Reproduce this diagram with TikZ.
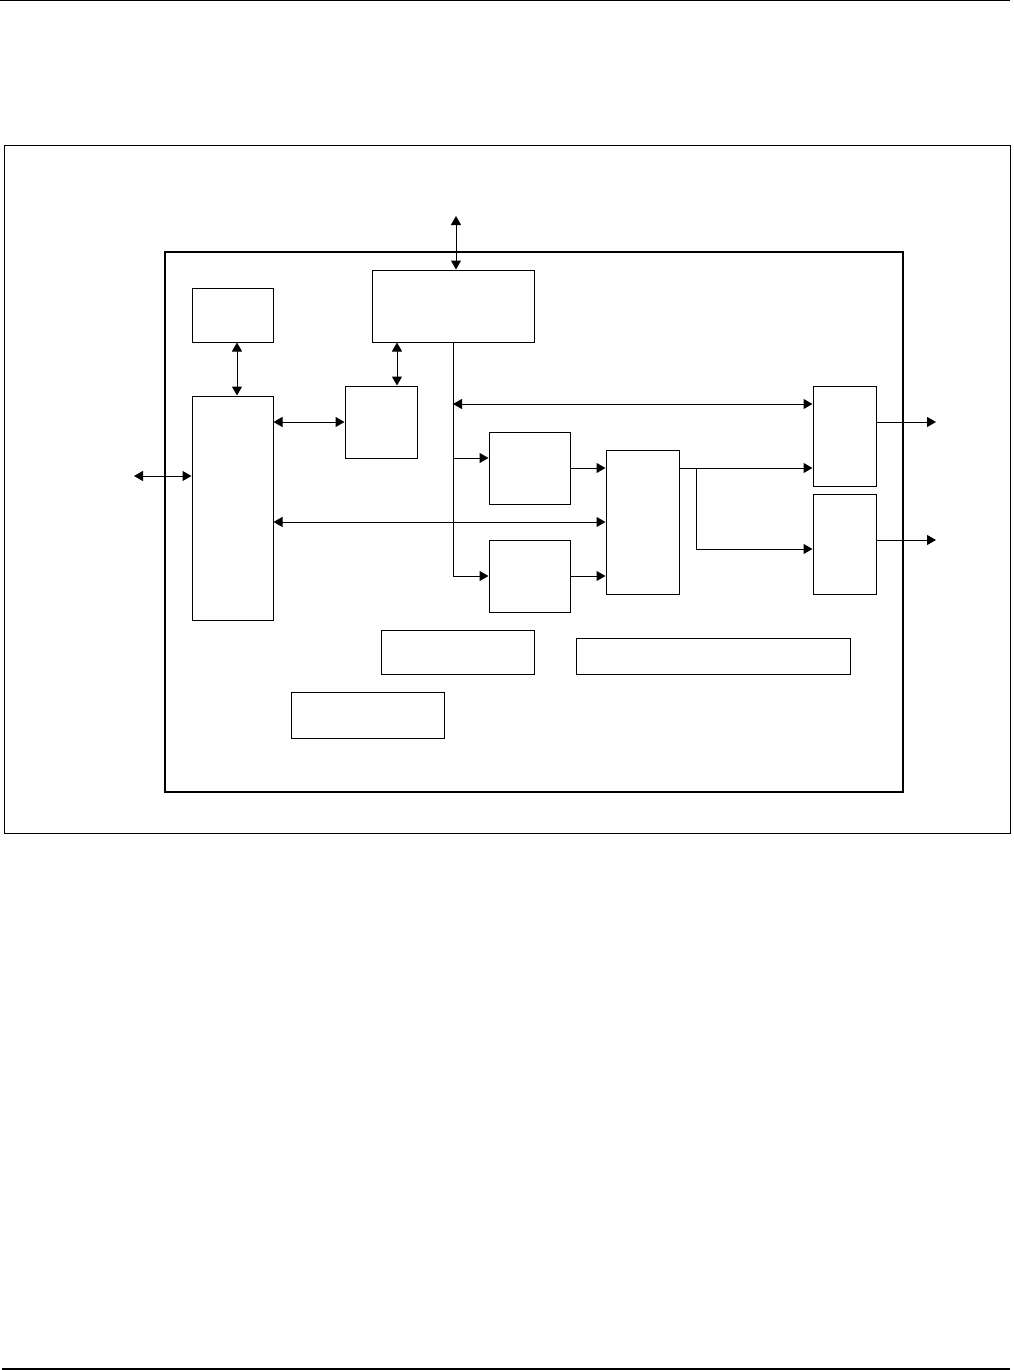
\documentclass[tikz,border=0pt]{standalone}
\usepackage{tikz}
\usetikzlibrary{arrows.meta,positioning,calc}

\begin{document}
\begin{tikzpicture}[x=1pt, y=-1pt, >={Triangle[length=9pt,width=10pt]},
  blk/.style={draw, line width=1pt, inner sep=0pt},
  link/.style={line width=1pt}]
  \useasboundingbox (0,0) rectangle (1013,1370);

  % Page rules and frames
  \draw[line width=1.3pt] (0,0.8) -- (1010,0.8);
  \draw[line width=2pt] (2,1368.5) -- (1010,1368.5);
  \draw[line width=1pt] (4,145) rectangle (1010,833);
  \draw[line width=2pt] (165,252) rectangle (903,792);

  % Blocks
  \node[blk, minimum width=81pt, minimum height=54pt] (mem) at (232.5,315) {};
  \node[blk, minimum width=81pt, minimum height=224pt] (host) at (232.5,508) {};
  \node[blk, minimum width=162pt, minimum height=72pt] (ctrl) at (453,306) {};
  \node[blk, minimum width=72pt, minimum height=72pt] (buf) at (381,422) {};
  \node[blk, minimum width=81pt, minimum height=72pt] (enc1) at (529.5,468) {};
  \node[blk, minimum width=81pt, minimum height=72pt] (enc2) at (529.5,576) {};
  \node[blk, minimum width=73pt, minimum height=144pt] (mux) at (642.5,522) {};
  \node[blk, minimum width=63pt, minimum height=100pt] (out1) at (844.5,436) {};
  \node[blk, minimum width=63pt, minimum height=100pt] (out2) at (844.5,544) {};
  \node[blk, minimum width=153pt, minimum height=44pt] (clk) at (457.5,652) {};
  \node[blk, minimum width=153pt, minimum height=46pt] (pwr) at (367.5,715) {};
  \node[blk, minimum width=274pt, minimum height=36pt] (cfg) at (713,656) {};

  % Free ends and taps
  \coordinate (extTop) at (456,216);
  \coordinate (extLeft) at (134,476);
  \coordinate (tap0) at (453,404);
  \coordinate (tap1) at (453,458);
  \coordinate (split) at (696,468);
  \coordinate (outA) at (936,422);
  \coordinate (outB) at (936,540);

  % Connectors
  \draw[<->, link] (extTop) -- (extTop |- ctrl.north);
  \draw[<->, link] (237,0 |- mem.south) -- (237,0 |- host.north);
  \draw[<->, link] (397,0 |- ctrl.south) -- (397,0 |- buf.north);
  \draw[<->, link] (host.east |- buf.west) -- (buf.west);
  \draw[<->, link] (extLeft) -- (extLeft -| host.west);
  \draw[<->, link] (host.east |- 0,522) -- (mux.west |- 0,522);

  % Bus
  \draw[->, link] (ctrl.south) |- (enc2.west);
  \draw[->, link] (tap1) -- (tap1 -| enc1.west);
  \draw[<->, link] (tap0) -- (tap0 -| out1.west);

  \draw[->, link] (enc1.east) -- (enc1.east -| mux.west);
  \draw[->, link] (enc2.east) -- (enc2.east -| mux.west);
  \draw[->, link] (mux.east |- split) -- (split -| out1.west);
  \draw[->, link] (split) |- (out2.west |- 0,549);

  % Outputs
  \draw[->, link] (out1.east |- outA) -- (outA);
  \draw[->, link] (out2.east |- outB) -- (outB);
\end{tikzpicture}
\end{document}
